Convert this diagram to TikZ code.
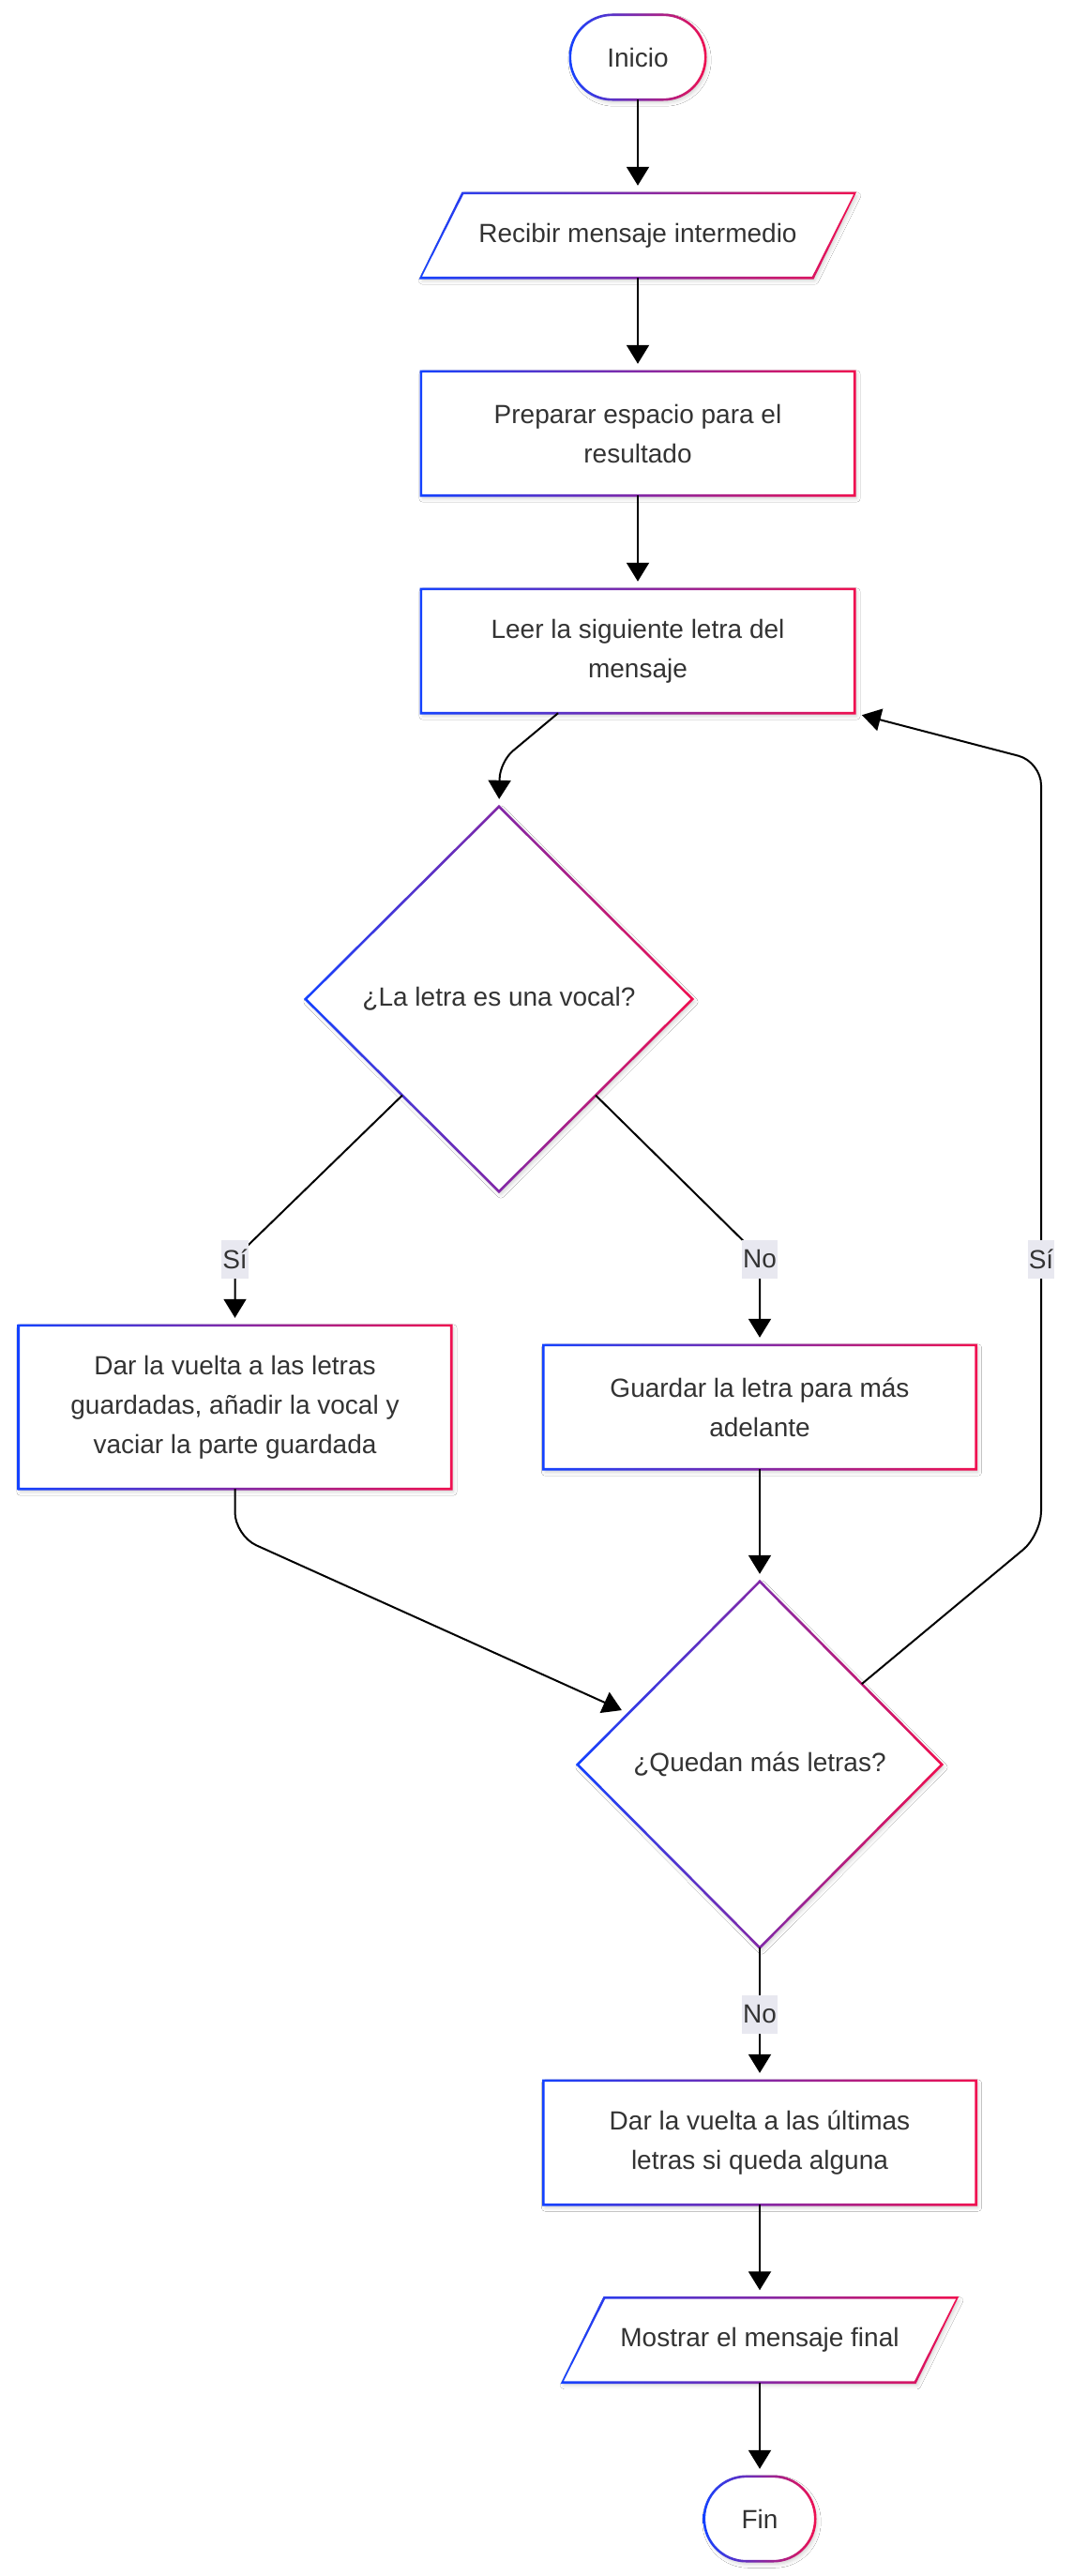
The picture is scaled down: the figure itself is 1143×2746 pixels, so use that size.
\documentclass[tikz,border=0pt]{standalone}
\usepackage{fontspec}
\setmainfont{Liberation Sans}
\usetikzlibrary{arrows.meta,shapes.geometric,shadows.blur,calc}
\definecolor{gblue}{RGB}{20,66,255}
\definecolor{gred}{RGB}{240,16,80}
\definecolor{txt}{RGB}{51,51,51}
\definecolor{lblbg}{RGB}{232,232,240}
\pgfdeclarelayer{background}
\pgfsetlayers{background,main}
\tikzset{
 txtnode/.style={draw=none, inner sep=0pt, align=center, text=txt, font=\fontsize{28}{42}\selectfont},
 boxnode/.style={txtnode, rectangle},
 dianode/.style={txtnode, diamond},
 grad/.style={left color=gblue, right color=gred, draw=none},
 shd/.style={fill=white, blur shadow={shadow xshift=2pt, shadow yshift=-3pt, shadow blur radius=4pt, shadow opacity=18}},
 arr/.style={draw=black, line width=2pt, -{Triangle[length=20pt,width=24pt]}, shorten >=8pt},
 lbl/.style={fill=lblbg, inner xsep=1pt, inner ysep=0pt, minimum height=41pt, text=txt, font=\fontsize{28}{42}\selectfont},
}
\def\hw{1.3pt}
\def\hd{1.84pt}
\newcommand{\ringrect}[1]{%
\begin{pgfonlayer}{background}
\path[shd] (#1.south west) rectangle (#1.north east);
\shade[grad, even odd rule] ([xshift=-\hw,yshift=-\hw]#1.south west) rectangle ([xshift=\hw,yshift=\hw]#1.north east) ([xshift=\hw,yshift=\hw]#1.south west) rectangle ([xshift=-\hw,yshift=-\hw]#1.north east);
\end{pgfonlayer}}
\newcommand{\ringdia}[1]{%
\begin{pgfonlayer}{background}
\path[shd] (#1.north) -- (#1.east) -- (#1.south) -- (#1.west) -- cycle;
\shade[grad, even odd rule] ([yshift=\hd]#1.north) -- ([xshift=\hd]#1.east) -- ([yshift=-\hd]#1.south) -- ([xshift=-\hd]#1.west) -- cycle ([yshift=-\hd]#1.north) -- ([xshift=-\hd]#1.east) -- ([yshift=\hd]#1.south) -- ([xshift=\hd]#1.west) -- cycle;
\end{pgfonlayer}}
\newcommand{\ringstad}[1]{%
\begin{pgfonlayer}{background}
\path[shd, rounded corners=44.9pt] (#1.south west) rectangle (#1.north east);
\shade[grad, even odd rule] [rounded corners=46.2pt] ([xshift=-\hw,yshift=-\hw]#1.south west) rectangle ([xshift=\hw,yshift=\hw]#1.north east) [rounded corners=43.6pt] ([xshift=\hw,yshift=\hw]#1.south west) rectangle ([xshift=-\hw,yshift=-\hw]#1.north east);
\end{pgfonlayer}}
\newcommand{\ringpar}[1]{%
\begin{pgfonlayer}{background}
\path[shd] ([xshift=22.5pt]#1.north west) -- ([xshift=22.5pt]#1.north east) -- ([xshift=-22.5pt]#1.south east) -- ([xshift=-22.5pt]#1.south west) -- cycle;
\shade[grad, even odd rule] ([xshift=22.5pt-0.81pt, yshift=\hw]#1.north west) -- ([xshift=22.5pt+1.52pt,yshift=\hw]#1.north east) -- ([xshift=-22.5pt+0.81pt,yshift=-\hw]#1.south east) -- ([xshift=-22.5pt-1.52pt,yshift=-\hw]#1.south west) -- cycle
 ([xshift=22.5pt+0.81pt,yshift=-\hw]#1.north west) -- ([xshift=22.5pt-1.52pt,yshift=-\hw]#1.north east) -- ([xshift=-22.5pt-0.81pt,yshift=\hw]#1.south east) -- ([xshift=-22.5pt+1.52pt,yshift=\hw]#1.south west) -- cycle;
\end{pgfonlayer}}
\begin{document}
\begin{tikzpicture}[x=1pt,y=-1pt]
\useasboundingbox (0,0) rectangle (1143,2746);
\begin{pgfonlayer}{background}
\fill[white] (0,0) rectangle (1143,2746);
\end{pgfonlayer}
% nodes
\node[boxnode, minimum width=144pt, minimum height=90pt] (ini) at (680,61) {Inicio};
\node[boxnode, minimum width=418pt, minimum height=90pt] (rec) at (680,251) {Recibir mensaje intermedio};
\node[boxnode, minimum width=462pt, minimum height=132pt] (prep) at (680,462) {Preparar espacio para el\\resultado};
\node[boxnode, minimum width=462pt, minimum height=132pt] (leer) at (680,694) {Leer la siguiente letra del\\mensaje};
\node[dianode, minimum width=412pt, minimum height=410pt] (d1) at (532,1065) {¿La letra es una vocal?};
\node[boxnode, minimum width=461pt, minimum height=174pt] (dar) at (250.5,1500) {Dar la vuelta a las letras\\guardadas, añadir la vocal y\\vaciar la parte guardada};
\node[boxnode, minimum width=461pt, minimum height=132pt] (guar) at (810,1500) {Guardar la letra para más\\adelante};
\node[dianode, minimum width=388pt, minimum height=390pt] (d2) at (810,1881) {¿Quedan más letras?};
\node[boxnode, minimum width=461pt, minimum height=132pt] (ult) at (810,2284) {Dar la vuelta a las últimas\\letras si queda alguna};
\node[boxnode, minimum width=376pt, minimum height=90pt] (most) at (810,2494.5) {Mostrar el mensaje final};
\node[boxnode, minimum width=118pt, minimum height=90pt] (fin) at (810,2685) {Fin};
% shapes
\ringstad{ini}
\ringpar{rec}
\ringrect{prep}
\ringrect{leer}
\ringdia{d1}
\ringrect{dar}
\ringrect{guar}
\ringdia{d2}
\ringrect{ult}
\ringpar{most}
\ringstad{fin}
% helper coordinates
\coordinate (leerout) at ([xshift=-85pt]leer.south);
\coordinate (c1) at (533,812);
\coordinate (d1sw) at ($(d1.west)!0.5!(d1.south)$);
\coordinate (d1se) at ($(d1.east)!0.5!(d1.south)$);
\coordinate (cSi) at (250.5,1341);
\coordinate (cNo) at (810,1340);
\coordinate (cdar) at (250.5,1637);
\coordinate (d2in) at ($(d2.north)!0.72!(d2.west)$);
\coordinate (d2ne) at ($(d2.north)!0.56!(d2.east)$);
\coordinate (cl1) at (1110,1636);
\coordinate (cl2) at (1110,812);
% connectors
\draw[arr] (ini.south) -- (rec.north);
\draw[arr] (rec.south) -- (prep.north);
\draw[arr] (prep.south) -- (leer.north);
\draw[arr, rounded corners=18pt] (leerout) -- (c1) -- (d1.north);
\draw[arr, rounded corners=15pt] (d1sw) -- (cSi) -- (dar.north);
\draw[arr, rounded corners=15pt] (d1se) -- (cNo) -- (guar.north);
\draw[arr, rounded corners=25pt] (dar.south) -- (cdar) -- (d2in);
\draw[arr] (guar.south) -- (d2.north);
\draw[arr, rounded corners=25pt] (d2ne) -- (cl1) -- (cl2) -- (leer.south east);
\draw[arr] (d2.south) -- (ult.north);
\draw[arr] (ult.south) -- (most.north);
\draw[arr] (most.south) -- (fin.north);
% labels
\node[lbl] (lsi1) at (250.5,1342) {Sí};
\node[lbl] (lno1) at (810,1342) {No};
\node[lbl] (lsi2) at (1110,1342) {Sí};
\node[lbl] (lno2) at ($(d2.south)!0.5!(ult.north)$) {No};
\end{tikzpicture}
\end{document}
